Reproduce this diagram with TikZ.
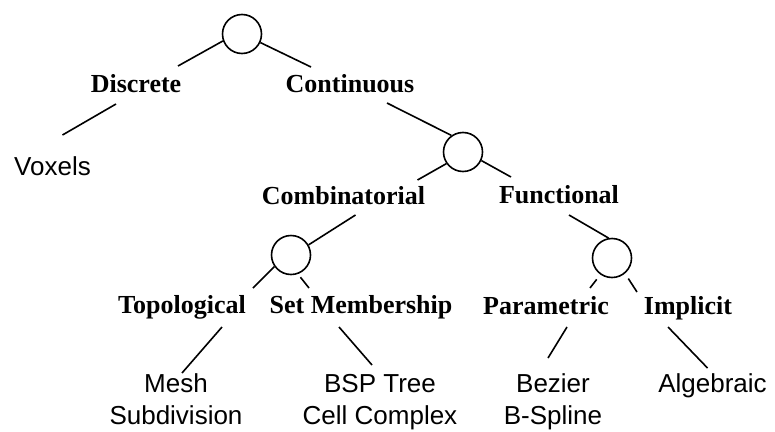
\documentclass[tikz,border=0pt]{standalone}
\usepackage{fontspec}
\setmainfont{Liberation Serif}
\setsansfont{Liberation Sans}
\usepackage{tikz}
\tikzset{
    branch/.style={-, line width=1.6pt},
    splitnode/.style={shape=circle, draw=black, line width=1.6pt, minimum size=39pt, inner sep=0pt},
    catlabel/.style={font=\fontsize{26}{32}\selectfont\bfseries, anchor=base, inner sep=0pt},
    leaflabel/.style={font=\fontsize{26}{32}\selectfont\sffamily, anchor=base, inner sep=0pt, align=center}
}

\begin{document}
\begin{tikzpicture}[x=1pt, y=-1pt]
    \useasboundingbox (0,0) rectangle (775,431);

    \node[splitnode] (root) at (242,34) {};
    \node[catlabel] (disc) at (136,92) {Discrete};
    \node[catlabel] (cont) at (350,92) {Continuous};
    \node[leaflabel] (vox) at (52.5,175) {Voxels};

    \node[splitnode] (contc) at (463,152) {};
    \node[catlabel] (comb) at (343.5,204) {Combinatorial};
    \node[catlabel] (func) at (559,203) {Functional};

    \node[splitnode] (combc) at (291,255) {};
    \node[catlabel] (topo) at (182,313) {Topological};
    \node[catlabel] (setm) at (361,313) {Set Membership};

    \node[splitnode] (funcc) at (612,258) {};
    \node[catlabel] (para) at (546,314) {Parametric};
    \node[catlabel] (impl) at (688,314) {Implicit};

    % two-line leaves sit on the baseline of their last line
    \node[leaflabel] (mesh) at (176,424) {Mesh\\Subdivision};
    \node[leaflabel] (bsp) at (380,424) {BSP Tree\\Cell Complex};
    \node[leaflabel] (bez) at (553,424) {Bezier\\B-Spline};
    \node[leaflabel] (alg) at (712.5,392) {Algebraic};

    % top level
    \path [branch] (root.200) edge ([shift={(42pt,26pt)}]disc.base);
    \path [branch] (root.335) edge ([shift={(-39pt,25pt)}]cont.base);
    \path [branch] ([shift={(-20pt,-12pt)}]disc.base) edge ([shift={(10pt,40pt)}]vox.base);
    \path [branch] ([shift={(37pt,-11pt)}]cont.base) edge (contc.125);

    % continuous
    \path [branch] (contc.215) edge ([shift={(74pt,24pt)}]comb.base);
    \path [branch] (contc.335) edge ([shift={(-48pt,26pt)}]func.base);
    \path [branch] ([shift={(12pt,-11pt)}]comb.base) edge (combc.30);
    \path [branch] ([shift={(10pt,-12pt)}]func.base) edge (funcc.100);

    % combinatorial
    \path [branch] (combc.215) edge ([shift={(71pt,25pt)}]topo.base);
    \path [branch, shorten <=4pt] (combc.290) edge ([shift={(-52pt,25pt)}]setm.base);
    \path [branch] ([shift={(40pt,-14pt)}]topo.base) edge ([shift={(6pt,51pt)}]mesh.base);
    \path [branch] ([shift={(-22pt,-14pt)}]setm.base) edge ([shift={(-8pt,59pt)}]bsp.base);

    % functional
    \path [branch, shorten <=6pt] (funcc.235) edge ([shift={(44pt,26pt)}]para.base);
    \path [branch, shorten <=6pt] (funcc.310) edge ([shift={(-51pt,22pt)}]impl.base);
    \path [branch] ([shift={(21pt,-13pt)}]para.base) edge ([shift={(-5pt,66pt)}]bez.base);
    \path [branch] ([shift={(-20pt,-13pt)}]impl.base) edge ([shift={(-5pt,24pt)}]alg.base);
\end{tikzpicture}
\end{document}
